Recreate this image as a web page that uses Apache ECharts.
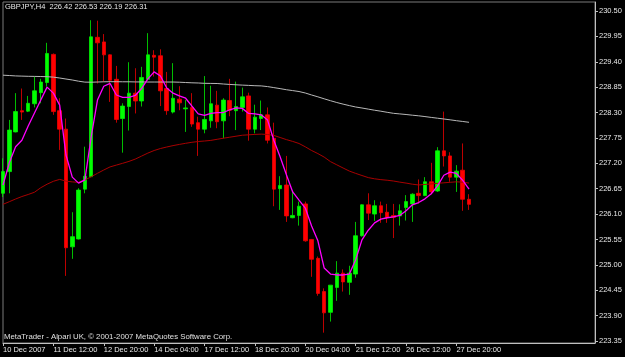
<!DOCTYPE html>
<html><head><meta charset="utf-8">
<script src="https://cdn.jsdelivr.net/npm/echarts@6/dist/echarts.min.js"></script>
<style>html,body{margin:0;padding:0;background:#000;}#c{width:625px;height:357px;}</style>
</head><body><div id="c"></div>
<script>
const symbolName = 'GBPJPY,H4';
const openV  = [226.55,227.02,227.88,228.34,228.33,228.49,228.73,228.95,229.56,228.34,227.94,225.39,225.56,226.64,226.91,229.93,229.83,229.55,229.02,228.17,228.43,228.72,228.55,229.02,229.54,229.53,228.82,228.31,228.59,228.38,228.41,228.08,227.94,228.12,228.46,228.12,228.56,228.34,228.41,228.66,227.94,228.17,228.25,227.74,226.65,226.73,226.02,226.07,226.32,225.55,225.14,224.42,223.97,224.51,224.82,224.62,224.80,225.63,226.30,226.10,226.28,226.14,226.07,226.06,226.24,226.32,226.55,226.50,226.80,226.60,227.47,227.36,226.90,227.05,226.42];
const closeV = [227.02,227.92,228.32,228.31,228.50,228.77,228.96,229.58,228.32,227.94,225.37,225.61,226.62,226.92,229.94,229.81,229.55,229.00,228.15,228.44,228.72,228.55,229.06,229.55,229.50,228.77,228.34,228.61,228.51,228.40,228.05,227.94,228.15,228.49,228.10,228.57,228.35,228.43,228.64,227.94,228.20,228.25,227.70,226.64,226.72,226.06,226.07,226.27,225.52,225.12,224.38,223.96,224.56,224.82,224.63,224.82,225.63,226.30,226.12,226.28,226.13,226.03,226.03,226.17,226.37,226.53,226.50,226.80,226.58,227.47,227.36,226.90,227.03,226.42,226.31];
const highV  = [227.31,228.14,228.72,228.82,228.66,229.08,229.03,229.81,229.58,228.61,228.17,226.14,226.66,227.56,230.30,230.29,230.00,229.56,229.31,228.50,229.39,229.26,229.29,230.02,229.65,229.67,229.18,229.37,228.87,228.57,228.72,228.21,229.09,228.88,228.77,228.61,229.03,228.97,228.84,228.73,228.47,228.56,228.41,228.08,226.92,227.36,226.61,226.37,226.37,225.56,225.18,224.49,224.56,225.08,224.90,224.98,225.93,226.31,226.55,226.40,226.37,226.32,226.32,226.31,226.51,226.55,226.85,226.90,227.21,227.55,228.32,227.44,227.16,227.63,226.53];
const lowV   = [226.47,226.55,227.87,228.14,228.31,228.41,228.50,228.86,228.25,227.49,224.76,225.13,225.55,226.55,226.90,228.93,228.97,228.53,228.08,227.43,227.91,228.28,228.43,229.00,229.08,228.44,228.25,228.28,228.35,227.88,227.99,227.36,227.85,227.97,227.96,227.74,228.22,227.92,228.32,227.69,227.85,227.92,227.63,226.27,226.19,225.93,226.01,225.85,225.50,224.74,224.33,223.53,223.77,224.22,224.42,224.35,224.72,225.61,225.97,225.95,225.91,225.91,225.58,225.85,225.96,225.93,226.33,226.49,226.53,226.58,227.13,226.80,226.58,226.17,226.19];
const silverMA = [229.109,229.102,229.093,229.089,229.085,229.083,229.080,229.076,229.067,229.048,229.026,229.005,228.979,228.959,228.957,228.961,228.966,228.968,228.968,228.966,228.966,228.963,228.963,228.961,228.961,228.961,228.961,228.961,228.957,228.950,228.944,228.940,228.933,228.931,228.929,228.918,228.909,228.901,228.894,228.888,228.881,228.877,228.862,228.840,228.818,228.794,228.775,228.755,228.723,228.680,228.640,228.597,228.556,228.517,228.482,228.450,228.420,228.398,228.374,228.350,228.329,228.305,228.283,228.270,228.257,228.242,228.229,228.212,228.194,228.177,228.160,228.142,228.123,228.106,228.088];
const redMA = [226.311,226.368,226.426,226.480,226.524,226.573,226.671,226.747,226.810,226.851,226.814,226.797,226.788,226.838,226.907,226.983,227.055,227.122,227.161,227.200,227.241,227.291,227.356,227.421,227.477,227.520,227.553,227.583,227.609,227.633,227.655,227.672,227.683,227.696,227.720,227.744,227.765,227.787,227.808,227.817,227.826,227.832,227.824,227.804,227.759,227.713,227.674,227.629,227.557,227.477,227.410,227.334,227.236,227.167,227.098,227.031,226.981,226.935,226.890,226.864,226.846,226.833,226.816,226.792,226.771,226.747,226.730,226.743,226.753,226.766,226.777,226.788,226.799,226.790,226.771];
const magentaMA = [226.73,227.21,227.56,227.70,228.01,228.29,228.57,228.85,228.72,228.46,227.38,226.90,226.77,226.84,227.77,228.57,228.87,228.93,228.68,228.63,228.63,228.67,228.82,229.03,229.18,229.09,228.83,228.72,228.66,228.61,228.44,228.27,228.24,228.28,228.30,228.30,228.36,228.40,228.39,228.28,228.27,228.25,228.14,227.70,227.34,226.95,226.58,226.40,226.23,225.84,225.52,224.93,224.80,224.78,224.78,224.80,225.11,225.54,225.75,225.91,225.99,226.02,226.04,226.07,226.17,226.30,226.35,226.43,226.54,226.71,226.94,227.01,226.98,226.83,226.64];
const timeTickLabels = ['10 Dec 2007','11 Dec 12:00','12 Dec 20:00','14 Dec 04:00','17 Dec 12:00','18 Dec 20:00','20 Dec 04:00','21 Dec 12:00','26 Dec 12:00','27 Dec 20:00'];
const priceTicks = [223.35,223.90,224.45,225.00,225.55,226.10,226.65,227.20,227.75,228.30,228.85,229.40,229.95,230.50];
const copyright = 'MetaTrader - Alpari UK, \u00A9 2001-2007 MetaQuotes Software Corp.';

const N = openV.length, SLOTS = 95, TICK_EVERY = 8;
const cats = []; for (let i = 0; i < SLOTS; i++) cats.push(String(i));
const candles = openV.map((o, i) => [o, closeV[i], lowV[i], highV[i]]);
const last = N - 1;
const font = '"Liberation Sans", Arial, sans-serif';
const FS = 7.5;
const tickFn = (i) => i % TICK_EVERY === 0 && i / TICK_EVERY < timeTickLabels.length;

const chart = echarts.init(document.getElementById('c'), null, {renderer: 'canvas'});
chart.setOption({
  backgroundColor: '#000',
  animation: false,
  textStyle: {fontFamily: font},
  title: {
    text: symbolName + '  ' + openV[last].toFixed(2) + ' ' + highV[last].toFixed(2) + ' ' + lowV[last].toFixed(2) + ' ' + closeV[last].toFixed(2),
    left: 5, top: 3, padding: 0,
    textStyle: {color: '#e8e8e8', fontSize: FS, fontWeight: 'normal', fontFamily: font}
  },
  graphic: [{type: 'text', left: 4, top: 333, silent: true,
    style: {text: copyright, fill: '#e0e0e0', font: '7.8px ' + font}}],
  grid: {left: 3, right: 30, top: 2, bottom: 14, show: true, borderColor: '#7a7a7a', borderWidth: 1, backgroundColor: '#000'},
  xAxis: {
    type: 'category', data: cats, boundaryGap: false,
    axisLine: {show: true, lineStyle: {color: '#c0c0c0', width: 1}},
    axisTick: {show: true, length: 3, interval: tickFn, lineStyle: {color: '#c0c0c0'}},
    axisLabel: {interval: tickFn, formatter: (v, i) => timeTickLabels[Number(v) / TICK_EVERY] || '',
      align: 'left', margin: 3, color: '#e8e8e8', fontSize: FS, fontFamily: font},
    splitLine: {show: false}
  },
  yAxis: {
    type: 'value', position: 'right', min: 223.306, max: 230.695,
    axisLine: {show: true, lineStyle: {color: '#c0c0c0', width: 1}},
    axisTick: {show: true, length: 3, customValues: priceTicks, lineStyle: {color: '#c0c0c0'}},
    axisLabel: {customValues: priceTicks, formatter: v => Number(v).toFixed(2), margin: 4,
      color: '#e8e8e8', fontSize: FS, fontFamily: font},
    splitLine: {show: false}
  },
  series: [
    {
      type: 'candlestick', data: candles, barWidth: 4, z: 2,
      itemStyle: {color: '#00ff00', color0: '#ff0000', borderColor: '#00ee00', borderColor0: '#ee0000', borderWidth: 0.8},
      markLine: {
        silent: true, symbol: ['none', 'none'], animation: false,
        lineStyle: {opacity: 0},
        label: {show: true, position: 'end', distance: 2, formatter: closeV[last].toFixed(2),
          backgroundColor: '#ffffff', color: '#000', padding: [1, 2, 0, 2], fontSize: FS, fontFamily: font},
        data: [{yAxis: closeV[last]}]
      }
    },
    {type: 'line', data: silverMA, symbol: 'none', z: 3, lineStyle: {color: '#b8b8b8', width: 1}},
    {type: 'line', data: redMA, symbol: 'none', z: 3, lineStyle: {color: '#a80000', width: 1}},
    {type: 'line', data: magentaMA, symbol: 'none', z: 4, lineStyle: {color: '#ff00ff', width: 1.3}}
  ]
});
</script></body></html>
